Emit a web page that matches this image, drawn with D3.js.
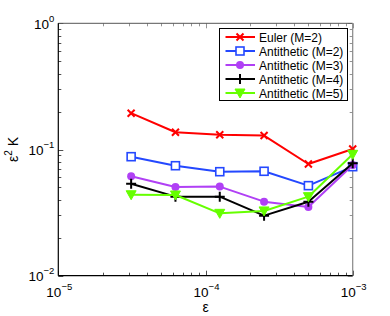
<!DOCTYPE html>
<html>
<head>
<meta charset="utf-8">
<script src="https://cdnjs.cloudflare.com/ajax/libs/d3/7.8.5/d3.min.js"></script>
<style>
  body { margin: 0; background: #fff; }
  svg text { font-family: "Liberation Sans", Arial, Helvetica, sans-serif; }
</style>
</head>
<body>
<div id="chart"></div>
<script>
var eps = [3.125e-5, 6.25e-5, 1.25e-4, 2.5e-4, 5e-4, 1e-3];

var euler2 = [0.194, 0.137, 0.131, 0.129, 0.0768, 0.101];
var anti2 = [0.0877, 0.0744, 0.0667, 0.0672, 0.0517, 0.0731];
var anti3 = [0.0613, 0.0505, 0.0508, 0.0386, 0.0350, 0.0753];
var anti4 = [0.0536, 0.0423, 0.0423, 0.0299, 0.0386, 0.0778];
var anti5 = [0.0438, 0.0436, 0.0312, 0.0326, 0.0423, 0.0916];

var seriesNames = ["Euler (M=2)", "Antithetic (M=2)", "Antithetic (M=3)", "Antithetic (M=4)", "Antithetic (M=5)"];
var xTickExp = [-5, -4, -3];
var yTickExp = [-2, -1, 0];

var W = 390, H = 316;
var margin = {left: 58.3, right: 390 - 352.7, top: 23.3, bottom: 316 - 275.7};

var svg = d3.select("#chart").append("svg").attr("width", W).attr("height", H);

var x = d3.scaleLog().domain([1e-5, 1e-3]).range([margin.left, W - margin.right]);
var y = d3.scaleLog().domain([1e-2, 1]).range([H - margin.bottom, margin.top]);

var x0 = x.range()[0], x1 = x.range()[1], y0 = y.range()[0], y1 = y.range()[1];

//minor + major ticks, drawn inward on all four sides like matlab
var ticks = svg.append("g").attr("stroke-width", 0.8);
function minorVals(scale) {
  var d = scale.domain(), out = [];
  for (var e = Math.log10(d[0]); e < Math.log10(d[1]); e++)
    for (var m = 1; m < 10; m++) out.push({v: m * Math.pow(10, e), major: m === 1});
  out.push({v: d[1], major: true});
  return out;
}
minorVals(x).forEach(function(t) {
  var px = Math.round(x(t.v)) + 0.5, len = t.major ? 5 : 3;
  ticks.append("line").attr("x1", px).attr("x2", px).attr("y1", y0).attr("y2", y0 - len).attr("stroke", "#222");
  ticks.append("line").attr("x1", px).attr("x2", px).attr("y1", y1).attr("y2", y1 + len).attr("stroke", "#777");
});
minorVals(y).forEach(function(t) {
  var py = Math.round(y(t.v)) + 0.5, len = t.major ? 5 : 3;
  ticks.append("line").attr("y1", py).attr("y2", py).attr("x1", x0).attr("x2", x0 + len).attr("stroke", "#222");
  ticks.append("line").attr("y1", py).attr("y2", py).attr("x1", x1).attr("x2", x1 - len).attr("stroke", "#777");
});

//frame
svg.append("line").attr("x1", x0).attr("x2", x1).attr("y1", y1).attr("y2", y1).attr("stroke", "#555").attr("stroke-width", 1);
svg.append("line").attr("x1", x1).attr("x2", x1).attr("y1", y1).attr("y2", y0).attr("stroke", "#888").attr("stroke-width", 1.2);
svg.append("line").attr("x1", x0).attr("x2", x1).attr("y1", y0).attr("y2", y0).attr("stroke", "#000").attr("stroke-width", 1.2);
svg.append("line").attr("x1", x0).attr("x2", x0).attr("y1", y1).attr("y2", y0).attr("stroke", "#000").attr("stroke-width", 1.2);

//tick labels
xTickExp.forEach(function(e) {
  var t = svg.append("text").attr("x", x(Math.pow(10, e)) + 1).attr("y", y0 + 21)
    .attr("text-anchor", "middle").attr("font-size", 13.5).attr("fill", "#000");
  t.append("tspan").text("10");
  t.append("tspan").attr("font-size", 9.5).attr("dy", -7).text("\u2212" + (-e));
});
yTickExp.forEach(function(e) {
  var t = svg.append("text").attr("x", x0 - 4).attr("y", y(Math.pow(10, e)) + 5.5)
    .attr("text-anchor", "end").attr("font-size", 13.5).attr("fill", "#000");
  t.append("tspan").text("10");
  t.append("tspan").attr("font-size", 9.5).attr("dy", -7).text(e === 0 ? "0" : "\u2212" + (-e));
});

//axis labels
svg.append("text").attr("x", (x0 + x1) / 2).attr("y", 311.5).attr("text-anchor", "middle")
  .attr("font-size", 14).text("\u03b5");
var yl = svg.append("text").attr("transform", "translate(18," + ((y0 + y1) / 2) + ") rotate(-90)")
  .attr("text-anchor", "middle").attr("font-size", 14);
yl.append("tspan").text("\u03b5");
yl.append("tspan").attr("font-size", 10).attr("dy", -6).text("2");
yl.append("tspan").attr("dy", 6).text(" K");

var series = [
  {name: seriesNames[0], vals: euler2, color: "#ff0000", marker: "x"},
  {name: seriesNames[1], vals: anti2, color: "#2448ff", marker: "square"},
  {name: seriesNames[2], vals: anti3, color: "#b040f5", marker: "circle"},
  {name: seriesNames[3], vals: anti4, color: "#000000", marker: "plus"},
  {name: seriesNames[4], vals: anti5, color: "#66ff00", marker: "tri"}
];

function drawMarker(g, kind, cx, cy, color) {
  if (kind === "x") {
    g.append("path").attr("d", "M" + (cx - 3.5) + "," + (cy - 3.5) + "L" + (cx + 3.5) + "," + (cy + 3.5) +
      "M" + (cx - 3.5) + "," + (cy + 3.5) + "L" + (cx + 3.5) + "," + (cy - 3.5))
      .attr("stroke", color).attr("stroke-width", 2).attr("fill", "none");
  } else if (kind === "square") {
    g.append("rect").attr("x", cx - 4).attr("y", cy - 4).attr("width", 8).attr("height", 8)
      .attr("fill", "#fff").attr("stroke", color).attr("stroke-width", 1.6);
  } else if (kind === "circle") {
    g.append("circle").attr("cx", cx).attr("cy", cy).attr("r", 4).attr("fill", color);
  } else if (kind === "plus") {
    g.append("path").attr("d", "M" + (cx - 5) + "," + cy + "L" + (cx + 5) + "," + cy +
      "M" + cx + "," + (cy - 5) + "L" + cx + "," + (cy + 5))
      .attr("stroke", color).attr("stroke-width", 2).attr("fill", "none");
  } else if (kind === "tri") {
    g.append("path").attr("d", "M" + (cx - 5) + "," + (cy - 4) + "L" + (cx + 5) + "," + (cy - 4) + "L" + cx + "," + (cy + 5) + "Z")
      .attr("fill", color).attr("stroke", color).attr("stroke-width", 1);
  }
}

var line = d3.line().x(function(d) { return x(d[0]); }).y(function(d) { return y(d[1]); });

series.forEach(function(s) {
  var pts = eps.map(function(e, i) { return [e, s.vals[i]]; });
  var g = svg.append("g");
  g.append("path").attr("d", line(pts)).attr("fill", "none").attr("stroke", s.color)
    .attr("stroke-width", 2).attr("stroke-linejoin", "round");
  pts.forEach(function(p) { drawMarker(g, s.marker, x(p[0]), y(p[1]), s.color); });
});

//legend
var leg = svg.append("g");
leg.append("rect").attr("x", 219.5).attr("y", 28.5).attr("width", 128).attr("height", 72)
  .attr("fill", "#fff").attr("stroke", "#000").attr("stroke-width", 1);
series.forEach(function(s, i) {
  var ly = 37 + i * 14;
  leg.append("line").attr("x1", 225.5).attr("x2", 255).attr("y1", ly).attr("y2", ly)
    .attr("stroke", s.color).attr("stroke-width", 2);
  drawMarker(leg, s.marker, 240, ly, s.color);
  leg.append("text").attr("x", 259).attr("y", ly + 4.5).attr("font-size", 12).text(s.name);
});
</script>
</body>
</html>
